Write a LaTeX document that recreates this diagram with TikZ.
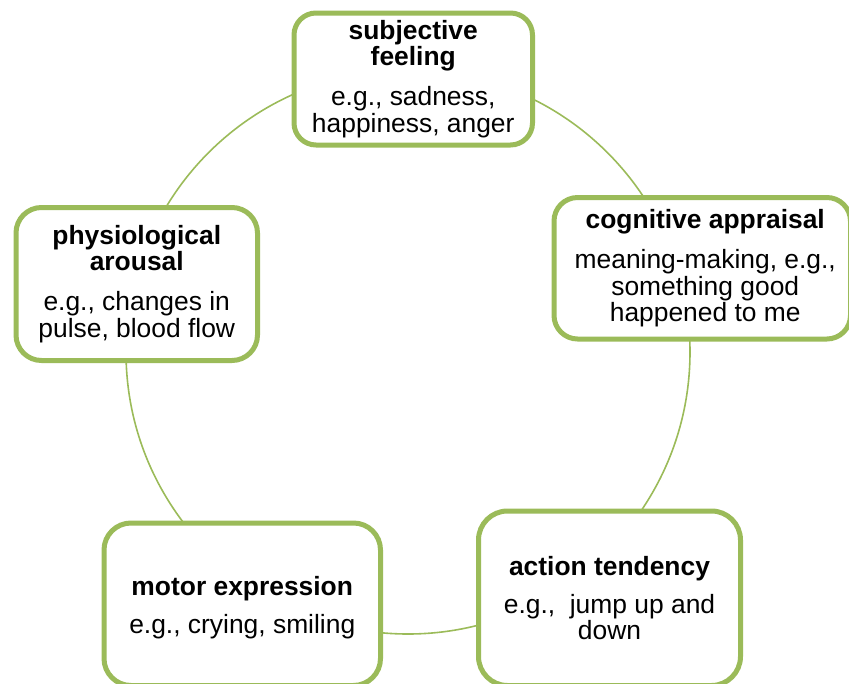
\documentclass[tikz,border=0pt]{standalone}
\usepackage{fontspec}
\setmainfont{Liberation Sans}
\definecolor{smgreen}{HTML}{9BBB59}
\begin{document}
\begin{tikzpicture}[x=1pt,y=-1pt,
  box/.style={draw=smgreen, line width=5pt, fill=white, align=center, inner sep=0pt,
    font=\fontsize{26.4}{26.3}\selectfont},
  ringstyle/.style={draw=smgreen, line width=1.6pt, circle, inner sep=0pt}]
\useasboundingbox (0,0) rectangle (849,683);
\clip (0,0) rectangle (849,683);
\node[ringstyle, minimum size=564pt] (ring) at (408,352) {};
\node[box, minimum width=238.5pt, minimum height=132pt, rounded corners=22pt] (feel) at (413.25,79)
  {\textbf{subjective}\\\textbf{feeling}\\[14pt]e.g., sadness,\\happiness, anger};
\node[box, minimum width=296.5pt, minimum height=141.5pt, rounded corners=23.6pt] (appr) at (702.25,268.25)
  {\hspace*{6pt}\textbf{cognitive appraisal}\\[14pt]\hspace*{6pt}meaning-making, e.g.,\\\hspace*{6pt}something good\\\hspace*{6pt}happened to me};
\node[box, minimum width=262pt, minimum height=174.5pt, rounded corners=29pt] (act) at (609.5,598.25)
  {\textbf{action tendency}\\[12pt]e.g.,\ \ jump up and\\down};
\node[box, minimum width=276.5pt, minimum height=162.5pt, rounded corners=27pt] (motor) at (242.25,604.25)
  {\mbox{}\\[-1pt]\textbf{motor expression}\\[12pt]e.g., crying, smiling};
\node[box, minimum width=241.5pt, minimum height=153pt, rounded corners=25.5pt] (arou) at (136.75,284)
  {\textbf{physiological}\\\textbf{arousal}\\[14pt]e.g., changes in\\pulse, blood flow};
\end{tikzpicture}
\end{document}
